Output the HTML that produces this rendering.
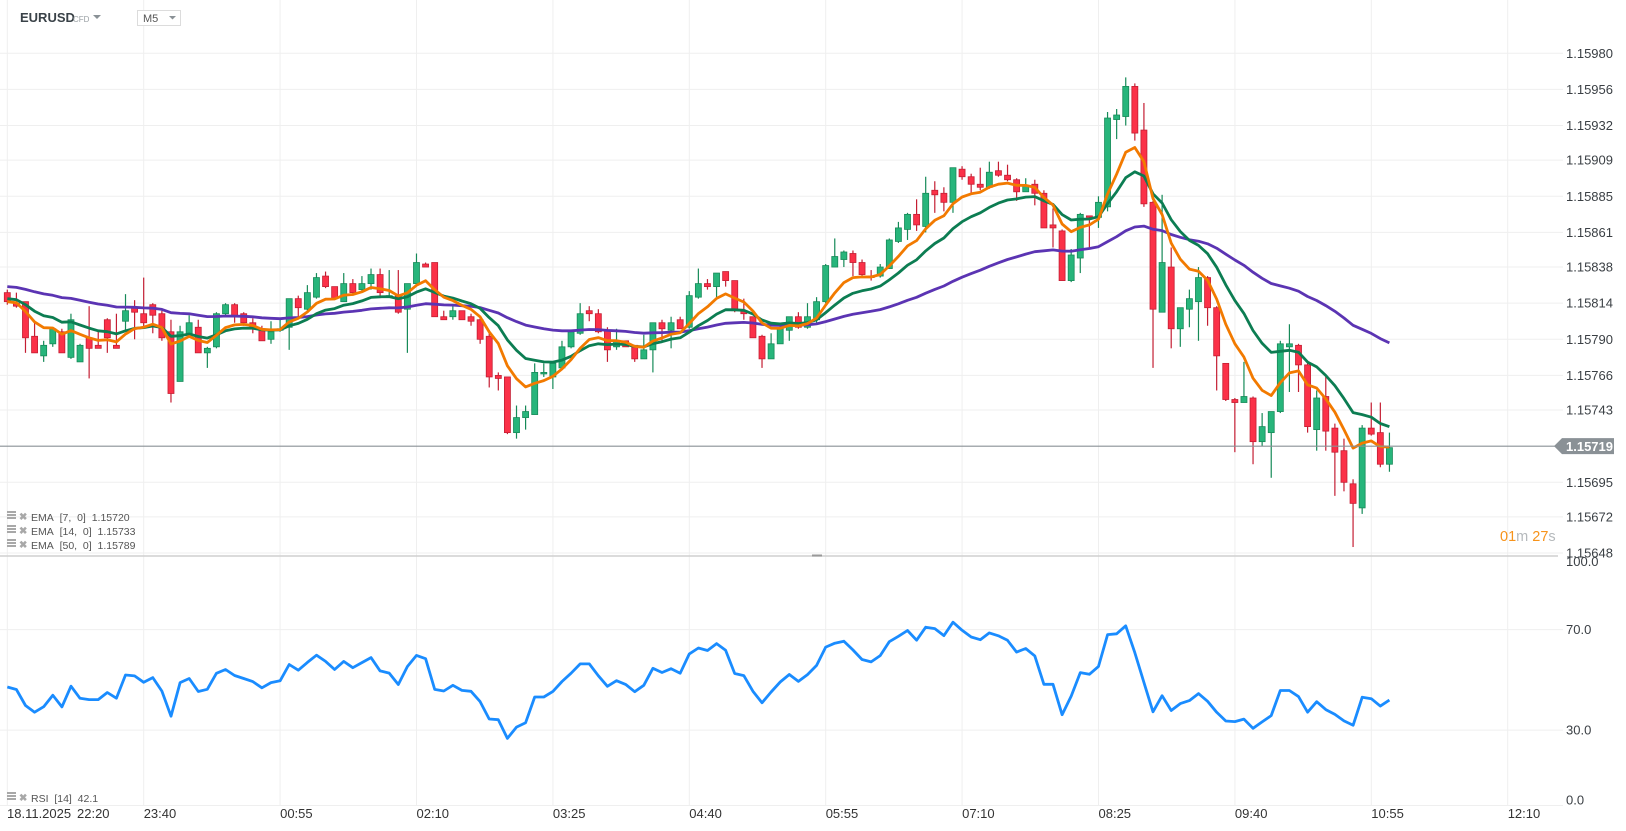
<!DOCTYPE html>
<html><head><meta charset="utf-8"><style>
html,body{margin:0;padding:0;background:#fff;overflow:hidden}
svg{display:block;font-family:"Liberation Sans",sans-serif}
</style></head><body>
<svg id="chart" width="1626" height="831" viewBox="0 0 1626 831" xmlns="http://www.w3.org/2000/svg">
<g id="grid"></g>
<g id="header">
 <text x="20" y="22" font-size="13" font-weight="bold" fill="#3a4248">EURUSD</text>
 <text x="73" y="22" font-size="8" fill="#9aa0a4">CFD</text>
 <path d="M93 15 L101 15 L97 19 Z" fill="#8a9196"/>
 <rect x="137.5" y="10.5" width="43" height="15" fill="#fff" stroke="#dcdcdc"/>
 <text x="143" y="22" font-size="11" fill="#555">M5</text>
 <path d="M169 16 L176 16 L172.5 19.5 Z" fill="#8a9196"/>
</g>
<g id="candles"></g>
<g id="emas"></g>
<g id="rsi"></g>
<g id="axes"></g>
<g id="overlay"></g>
</svg>
<script>
const NS="http://www.w3.org/2000/svg";
// ---- data ----
const startLabel="18.11.2025";
const timeLabels=["22:20","23:40","00:55","02:10","03:25","04:40","05:55","07:10","08:25","09:40","10:55","12:10"];
const priceTicks=[1.15980,1.15956,1.15932,1.15909,1.15885,1.15861,1.15838,1.15814,1.15790,1.15766,1.15743,1.15695,1.15672,1.15648];
const rsiTicks=[100,70,30,0];
const lastPrice=1.15719;
const opens=[821,814,815,792,779,787,795,778,775,791,786,803,786,802,811,807,813,807,795,762,794,798,781,785,807,813,807,801,797,790,796,798,817,810,818,832,825,815,827,823,827,833,819,819,810,827,840,841,805,805,809,805,803,792,766,765,728,738,740,767,765,771,785,794,809,807,796,785,789,786,777,783,801,796,803,798,818,827,825,835,829,809,805,792,777,787,796,805,798,803,815,838,843,847,841,832,832,837,855,863,873,865,889,887,881,903,898,893,891,902,899,896,888,893,887,866,862,829,844,872,871,878,936,938,958,929,881,808,838,797,810,815,831,811,774,750,748,751,722,728,742,785,786,773,730,752,731,716,694,678,731,728,707];
const highs=[823,821,815,801,789,798,797,807,787,812,796,804,807,820,816,831,814,809,803,799,806,803,785,808,814,814,808,804,799,802,803,817,819,826,834,835,825,834,830,832,837,837,836,836,827,847,841,841,809,812,809,807,804,796,768,765,746,746,774,774,774,789,796,814,812,810,798,797,789,786,793,801,803,805,805,822,837,830,834,835,829,817,805,793,794,801,805,808,814,818,840,857,849,849,843,836,840,857,868,874,883,898,895,891,904,905,900,904,908,908,906,897,897,896,889,877,863,850,874,872,885,941,943,964,960,947,882,886,851,811,823,838,832,812,774,751,775,752,741,742,789,800,787,774,756,765,734,724,697,733,748,748,728];
const lows=[813,811,781,781,775,785,786,777,775,764,784,781,784,796,790,797,794,789,748,762,792,781,771,784,806,801,799,794,789,787,795,783,805,809,817,824,817,815,819,821,823,819,818,807,781,826,838,805,803,803,803,799,787,758,756,727,724,730,740,765,757,771,784,793,802,794,775,783,785,775,777,768,789,784,797,797,817,823,818,825,808,803,791,771,777,787,789,797,797,801,814,838,838,832,832,829,831,837,854,856,862,861,874,875,874,896,886,889,890,898,895,882,888,879,868,851,829,828,834,851,864,875,923,932,922,878,771,808,784,785,798,789,799,756,749,715,748,707,719,698,741,755,755,728,716,716,686,689,652,674,726,705,702];
const closes=[815,812,791,781,786,797,781,803,786,784,784,791,784,809,808,801,806,791,754,795,801,781,784,807,813,805,801,797,789,795,797,817,811,821,831,825,817,827,821,827,833,821,819,808,827,841,838,805,803,809,803,802,790,765,764,728,738,742,768,768,774,785,795,807,807,795,783,789,785,777,783,801,797,801,797,819,827,825,834,829,809,807,791,777,787,797,805,798,805,815,839,845,848,841,833,831,838,856,864,873,866,887,886,881,904,898,893,891,901,899,896,888,892,887,864,864,829,846,873,871,881,937,939,958,927,880,810,841,797,811,817,831,811,779,750,748,752,722,732,742,787,787,773,732,751,729,715,695,681,731,727,707,718];
const emaSeeds=[1.15815,1.15817,1.15825];
const emaPeriods=[7,14,50];
const rsiSeedGain=0.000050, rsiSeedLoss=0.000056;
// ---- scales ----
const P=v=>1.15+v/1e5;
const xOf=i=>7.3+9.093*i;
const yP=p=>53.3+(1.1598-p)*150526;
const yR=v=>805.5-v*2.513;
function el(tag,attrs,parent){const e=document.createElementNS(NS,tag);for(const k in attrs)e.setAttribute(k,attrs[k]);parent.appendChild(e);return e;}
const grid=document.getElementById('grid'),axes=document.getElementById('axes');
timeLabels.forEach((t,k)=>{
  const x=7.3+136.4*k;
  const l=el('line',{x1:x,x2:x,y1:0,y2:805,stroke:'#efefef','stroke-width':1},grid);
  
  
  const tx=el('text',{x:k==0?77:x,y:818,'font-size':13,fill:'#333'},axes);
  tx.textContent=t;
  
  
});
{const d=el('text',{x:7,y:818,'font-size':13,fill:'#333'},axes);d.textContent=startLabel;

}
priceTicks.forEach(p=>{
  const y=yP(p);
  const l=el('line',{x1:0,x2:1563,y1:y,y2:y,stroke:'#efefef','stroke-width':1},grid);
  
  
  const t=el('text',{x:1566,y:y+4.5,'font-size':13,fill:'#3a3f44'},axes);
  t.textContent=p.toFixed(5);
  
  
});
rsiTicks.forEach(v=>{
  const y=yR(v);
  if(v<100){const l=el('line',{x1:0,x2:1563,y1:y,y2:y,stroke:'#efefef','stroke-width':1},grid);
  
  }
  const t=el('text',{x:1566,y:v==100?y+12:(v==0?y-1:y+4.5),'font-size':13,fill:'#3a3f44'},axes);
  t.textContent=v.toFixed(1);
  
  
});
{const s=el('line',{x1:0,x2:1558,y1:556,y2:556,stroke:'#cfcfcf','stroke-width':1.5},axes);


const h=el('rect',{x:812,y:554.5,width:10,height:2,fill:'#999'},axes);

}
const cg=document.getElementById('candles');
closes.forEach((cv,i)=>{
  const o=P(opens[i]),c=P(cv),h=P(highs[i]),l=P(lows[i]);
  const up=c>=o, x=xOf(i);
  const fill=up?'#27b57b':'#fb3148', stroke=up?'#168a58':'#c41e33';
  const w=el('line',{x1:x,x2:x,y1:yP(h),y2:yP(l),stroke:stroke,'stroke-width':1.2},cg);
  
  
  const top=yP(Math.max(o,c)),bot=yP(Math.min(o,c));
  const b=el('rect',{x:x-3,y:top,width:6,height:Math.max(1.5,bot-top),fill:fill,stroke:stroke,'stroke-width':0.8},cg);
  
  
});
const eg=document.getElementById('emas');
const emaColors=['#f27a00','#0c7d52','#5b34b3'];
const emaNames=['ema-7-line','ema-14-line','ema-50-line'];
[2,1,0].forEach(k=>{
  const a=2/(emaPeriods[k]+1);let e=emaSeeds[k];const pts=[];
  closes.forEach((cv,i)=>{if(i>0)e=e+a*(P(cv)-e);pts.push(xOf(i).toFixed(1)+','+yP(e).toFixed(1));});
  const pl=el('polyline',{points:pts.join(' '),fill:'none',stroke:emaColors[k],'stroke-width':2.8,'stroke-linejoin':'round'},eg);
  
  
});
{let ag=rsiSeedGain,al=rsiSeedLoss;const pts=[];
closes.forEach((cv,i)=>{
  if(i>0){const d=P(cv)-P(closes[i-1]);ag=(ag*13+Math.max(d,0))/14;al=(al*13+Math.max(-d,0))/14;}
  const r=100-100/(1+ag/al);
  pts.push(xOf(i).toFixed(1)+','+yR(r).toFixed(1));
});
const pl=el('polyline',{points:pts.join(' '),fill:'none',stroke:'#1a8cff','stroke-width':2.8,'stroke-linejoin':'round'},document.getElementById('rsi'));

}
const ov=document.getElementById('overlay');
{const y=yP(lastPrice);
const l=el('line',{x1:0,x2:1556,y1:y,y2:y,stroke:'#8a9196','stroke-width':1.2},ov);


const tag=el('path',{d:`M1554 ${y} L1562 ${y-8} L1614 ${y-8} L1614 ${y+8} L1562 ${y+8} Z`,fill:'#8a9196'},ov);


const t=el('text',{x:1566,y:y+5,'font-size':13,'font-weight':'bold',fill:'#fff'},ov);
t.textContent=lastPrice.toFixed(5);

}
const legends=[['EMA\u00a0 [7,\u00a0 0]\u00a0 1.15720',517,'ema-7-legend'],['EMA\u00a0 [14,\u00a0 0]\u00a0 1.15733',531,'ema-14-legend'],['EMA\u00a0 [50,\u00a0 0]\u00a0 1.15789',545,'ema-50-legend'],['RSI\u00a0 [14]\u00a0 42.1',798,'rsi-legend']];
legends.forEach(([txt,y,nm])=>{
  const g=el('g',{},ov);
  
  
  el('rect',{x:7,y:y-6,width:9,height:2,fill:'#a8a8a8'},g);
  el('rect',{x:7,y:y-3,width:9,height:2,fill:'#a8a8a8'},g);
  el('rect',{x:7,y:y,width:9,height:2,fill:'#a8a8a8'},g);
  const x=el('text',{x:19,y:y+3,'font-size':10,'font-weight':'bold',fill:'#a8a8a8'},g);x.textContent='\u2716';
  
  
  const t=el('text',{x:31,y:y+4,'font-size':10.5,fill:'#555'},g);t.textContent=txt;
});
{const t=el('text',{x:1500,y:541,'font-size':14.5,fill:'#f7931a'},ov);
t.innerHTML='01<tspan fill="#b5b9bc">m</tspan> 27<tspan fill="#b5b9bc">s</tspan>';

}
</script>
</body></html>
